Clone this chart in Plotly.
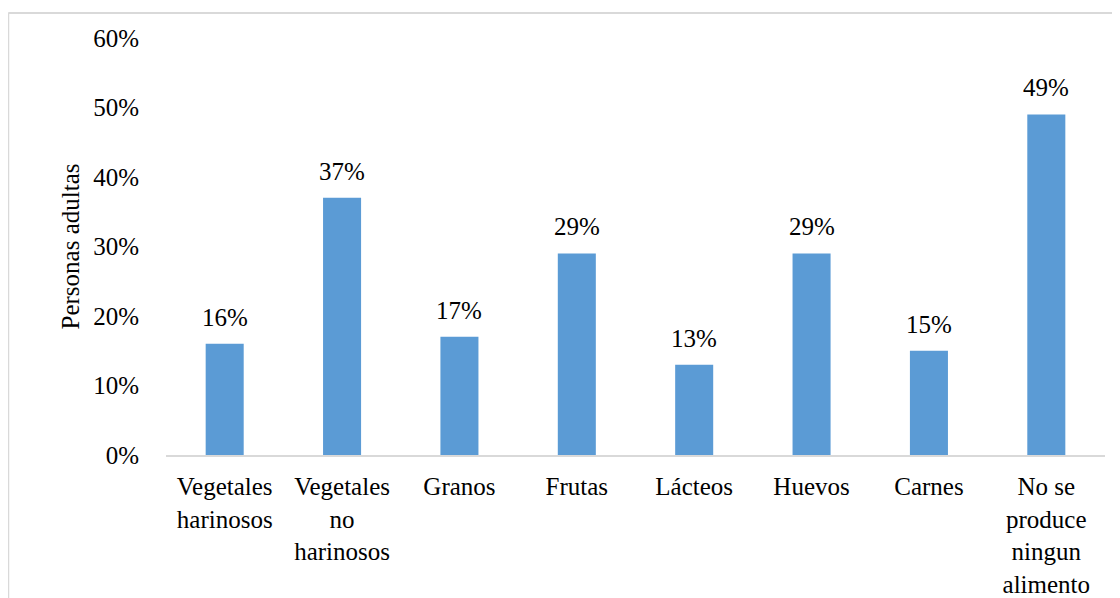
import plotly.graph_objects as go

# Categories and values (% of adults)
categorias = ['Vegetales<br>harinosos', 'Vegetales<br>no<br>harinosos', 'Granos', 'Frutas',
              'Lácteos', 'Huevos', 'Carnes', 'No se<br>produce<br>ningun<br>alimento']
valores = [16, 37, 17, 29, 13, 29, 15, 49]
etiquetas = [f'{v}%' for v in valores]
y_ticks = [0, 10, 20, 30, 40, 50, 60]
y_labels = [f'{t}%' for t in y_ticks]

font_fam = 'Liberation Serif'
fsize = 25

fig = go.Figure(go.Bar(
    x=categorias,
    y=valores,
    marker=dict(color='#5B9BD5', line=dict(width=0)),
    hoverinfo='x+y',
))

# data labels above bars
for c, v, t in zip(categorias, valores, etiquetas):
    fig.add_annotation(x=c, y=v, text=t, showarrow=False,
                       yanchor='bottom', yshift=11,
                       font=dict(family=font_fam, size=fsize, color='#000000'))

# page body adds an 8px offset, margins compensate for it
fig.update_layout(
    width=1120, height=598,
    margin=dict(l=158, r=23, t=30, b=151),
    paper_bgcolor='white', plot_bgcolor='white',
    font=dict(family=font_fam, size=fsize, color='#000000'),
    bargap=0.676,
    showlegend=False,
)

fig.update_xaxes(
    showline=True, linecolor='#D9D9D9', linewidth=2,
    showgrid=False, ticks='', ticklabelstandoff=8,
    tickangle=0, automargin=False,
)
fig.update_yaxes(
    range=[0, 60], tickvals=y_ticks, ticktext=y_labels,
    showgrid=False, showline=False, zeroline=False, ticks='',
    ticklabelstandoff=26, automargin=False,
    title=dict(text='Personas adultas', standoff=6,
               font=dict(family=font_fam, size=fsize)),
)

# chart border (top and left edges visible)
fig.add_shape(type='line', xref='paper', yref='paper',
              x0=-0.168, x1=1.03, y0=1.06, y1=1.06,
              line=dict(color='#D9D9D9', width=2))
fig.add_shape(type='line', xref='paper', yref='paper',
              x0=-0.168, x1=-0.168, y0=1.06, y1=-0.4,
              line=dict(color='#D9D9D9', width=2))

fig.write_html('out.html')
